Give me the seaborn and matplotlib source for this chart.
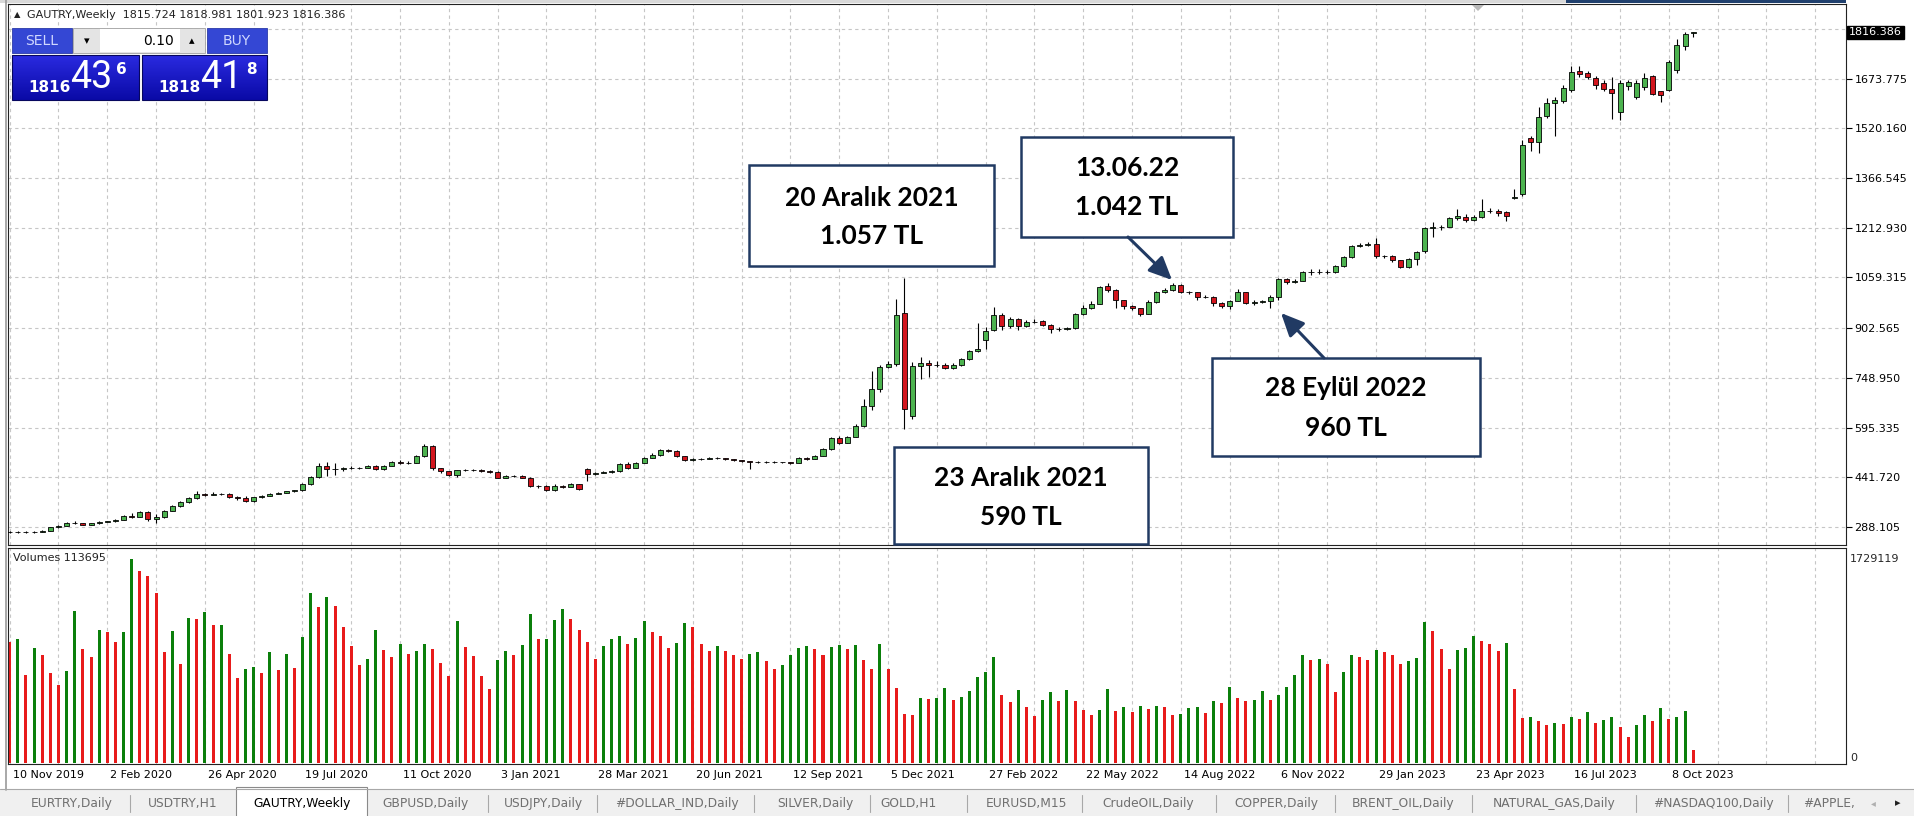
import numpy as np
import pandas as pd
import matplotlib.pyplot as plt
import matplotlib.patches as mpatches
from matplotlib.colors import LinearSegmentedColormap
import seaborn as sns

# --- Setup ---
sns.set_style('white')
plt.rcParams['font.family'] = ['DejaVu Sans']
W, H = 1915, 816

# --- Data: weekly GAUTRY candles (from 10 Nov 2019) ---
opens = [272, 274, 273, 273, 274, 277, 287, 292, 301, 301,
         295, 299, 305, 306, 310, 323, 320, 335, 313, 318,
         339, 353, 365, 378, 391, 388, 390, 389, 381, 379,
         368, 380, 384, 390, 393, 398, 401, 421, 442, 477,
         466, 466, 471, 470, 471, 477, 467, 478, 489, 486,
         487, 508, 537, 469, 460, 448, 463, 464, 464, 461,
         459, 441, 446, 446, 441, 414, 415, 401, 415, 413,
         421, 468, 451, 454, 458, 460, 484, 471, 487, 502,
         511, 525, 524, 506, 494, 499, 499, 502, 500, 497,
         496, 491, 489, 489, 488, 488, 488, 487, 501, 499,
         508, 528, 563, 549, 567, 601, 661, 715, 784, 793,
         950, 632, 787, 796, 788, 790, 780, 789, 806, 831,
         866, 897, 942, 910, 930, 908, 923, 925, 913, 901,
         901, 902, 945, 965, 978, 1032, 1021, 990, 972, 965,
         947, 983, 1014, 1019, 1037, 1014, 1013, 998, 1000, 980,
         970, 987, 1013, 980, 984, 985, 999, 1055, 1046, 1049,
         1075, 1075, 1075, 1076, 1094, 1123, 1156, 1158, 1163, 1124,
         1126, 1112, 1090, 1116, 1141, 1213, 1215, 1216, 1242, 1247,
         1237, 1246, 1265, 1265, 1262, 1305, 1316, 1490, 1479, 1559,
         1597, 1603, 1638, 1697, 1690, 1677, 1659, 1643, 1569, 1651,
         1616, 1648, 1681, 1636, 1640, 1699, 1773, 1815.724]
highs = [276, 276, 275, 277, 279, 289, 295, 303, 308, 302,
         301, 307, 308, 312, 325, 330, 338, 337, 328, 341,
         356, 368, 381, 398, 394, 396, 392, 393, 383, 383,
         382, 386, 392, 395, 400, 403, 424, 445, 487, 488,
         485, 474, 476, 474, 481, 480, 481, 492, 494, 492,
         510, 545, 540, 471, 462, 465, 468, 467, 466, 463,
         462, 449, 448, 450, 443, 419, 417, 420, 418, 423,
         422, 471, 457, 460, 463, 486, 488, 490, 504, 516,
         528, 530, 527, 507, 502, 502, 504, 504, 500, 498,
         495, 491, 492, 491, 491, 490, 490, 503, 503, 511,
         531, 566, 568, 570, 606, 685, 771, 788, 801, 993,
         1057, 797, 812, 805, 800, 795, 795, 810, 836, 919,
         905, 968, 948, 937, 933, 928, 930, 928, 914, 905,
         906, 950, 974, 986, 1033, 1042, 1024, 990, 975, 966,
         990, 1018, 1026, 1041, 1039, 1018, 1014, 1006, 1002, 982,
         990, 1024, 1015, 990, 990, 1004, 1058, 1058, 1053, 1078,
         1086, 1085, 1083, 1098, 1127, 1160, 1165, 1168, 1180, 1130,
         1128, 1112, 1118, 1142, 1216, 1231, 1222, 1246, 1272, 1255,
         1252, 1301, 1273, 1270, 1266, 1334, 1485, 1497, 1587, 1615,
         1616, 1655, 1712, 1712, 1698, 1682, 1670, 1678, 1668, 1670,
         1668, 1692, 1686, 1636, 1730, 1795, 1819, 1818.981]
lows = [270, 271, 271, 271, 273, 276, 286, 291, 296, 293,
        294, 298, 303, 305, 309, 317, 319, 306, 300, 316,
        337, 351, 363, 376, 384, 386, 386, 379, 372, 366,
        366, 378, 383, 389, 392, 396, 399, 419, 440, 445,
        450, 462, 466, 468, 470, 464, 465, 476, 483, 483,
        485, 505, 465, 455, 446, 442, 460, 461, 458, 455,
        438, 441, 443, 439, 411, 410, 398, 399, 409, 412,
        401, 429, 448, 454, 456, 458, 466, 470, 486, 500,
        509, 520, 504, 492, 493, 496, 498, 497, 494, 493,
        488, 468, 486, 485, 485, 485, 484, 486, 495, 497,
        506, 525, 545, 547, 565, 598, 650, 705, 780, 785,
        590, 623, 745, 752, 782, 776, 777, 785, 803, 828,
        838, 893, 896, 904, 896, 905, 918, 910, 888, 895,
        897, 900, 943, 962, 976, 1015, 966, 962, 958, 940,
        945, 980, 1012, 1016, 1010, 1008, 990, 995, 970, 966,
        962, 985, 978, 973, 980, 966, 990, 1040, 1043, 1047,
        1068, 1070, 1070, 1074, 1092, 1120, 1152, 1157, 1120, 1120,
        1108, 1087, 1088, 1097, 1136, 1185, 1205, 1214, 1238, 1230,
        1233, 1243, 1258, 1250, 1235, 1303, 1312, 1451, 1444, 1553,
        1497, 1598, 1632, 1679, 1672, 1642, 1634, 1549, 1546, 1640,
        1610, 1640, 1622, 1600, 1636, 1690, 1763, 1801.923]
closes = [274, 273, 273, 274, 277, 287, 292, 301, 301, 295,
          299, 305, 306, 310, 323, 320, 335, 313, 318, 339,
          353, 365, 378, 391, 388, 390, 389, 381, 379, 368,
          380, 384, 390, 393, 398, 401, 421, 442, 477, 466,
          466, 471, 470, 471, 477, 467, 478, 489, 486, 487,
          508, 537, 469, 460, 448, 463, 464, 464, 461, 459,
          441, 446, 446, 441, 414, 415, 401, 415, 413, 421,
          404, 451, 454, 458, 460, 484, 471, 487, 502, 511,
          525, 524, 506, 494, 499, 499, 502, 500, 497, 496,
          491, 489, 489, 488, 488, 488, 487, 501, 499, 508,
          528, 563, 549, 567, 601, 661, 715, 784, 793, 943,
          652, 787, 796, 788, 790, 780, 789, 806, 831, 837,
          895, 942, 910, 930, 908, 923, 923, 913, 901, 901,
          902, 945, 965, 978, 1030, 1021, 990, 972, 965, 947,
          983, 1014, 1019, 1037, 1014, 1013, 998, 1000, 980, 970,
          987, 1013, 980, 984, 985, 999, 1055, 1046, 1049, 1075,
          1075, 1075, 1076, 1094, 1123, 1156, 1158, 1163, 1124, 1126,
          1112, 1090, 1116, 1137, 1213, 1215, 1216, 1242, 1249, 1237,
          1246, 1265, 1265, 1259, 1249, 1307, 1470, 1479, 1556, 1598,
          1608, 1644, 1695, 1689, 1679, 1654, 1641, 1628, 1661, 1663,
          1661, 1675, 1626, 1624, 1725, 1779, 1813, 1816.386]
# weekly tick volume, thousands
volume_k = [1028, 1051, 743, 978, 915, 760, 658, 777, 1288, 969,
            901, 1124, 1108, 1028, 1113, 1729.119, 1630, 1588, 1444, 941,
            1116, 839, 1226, 1218, 1277, 1167, 1172, 924, 718, 797,
            811, 760, 941, 788, 924, 805, 1071, 1441, 1322, 1407,
            1331, 1150, 995, 831, 881, 1130, 958, 901, 1009, 924,
            949, 1009, 969, 848, 737, 1201, 986, 907, 737, 624,
            873, 949, 915, 1003, 1260, 1048, 1054, 1209, 1302, 1218,
            1124, 1026, 882, 995, 1051, 1079, 1009, 1062, 1206, 1113,
            1079, 975, 1017, 1184, 1150, 1009, 949, 992, 949, 915,
            882, 924, 938, 862, 794, 828, 915, 972, 992, 966,
            915, 983, 1000, 966, 1000, 873, 794, 1009, 794, 639,
            412, 404, 551, 542, 551, 639, 534, 559, 613, 726,
            768, 898, 576, 520, 622, 475, 398, 534, 605, 528,
            622, 526, 449, 407, 449, 624, 441, 475, 432, 483,
            458, 483, 475, 407, 415, 466, 472, 424, 526, 509,
            647, 551, 528, 534, 613, 534, 576, 647, 746, 915,
            873, 882, 839, 605, 768, 915, 898, 873, 958, 941,
            915, 839, 862, 887, 1198, 1122, 966, 794, 958, 975,
            1079, 1034, 1009, 949, 1017, 624, 381, 390, 356, 322,
            339, 331, 390, 373, 432, 339, 364, 390, 305, 223,
            322, 407, 356, 466, 373, 390, 441, 113.695]

date_labels = ['10 Nov 2019', '2 Feb 2020', '26 Apr 2020', '19 Jul 2020', '11 Oct 2020',
               '3 Jan 2021', '28 Mar 2021', '20 Jun 2021', '12 Sep 2021', '5 Dec 2021',
               '27 Feb 2022', '22 May 2022', '14 Aug 2022', '6 Nov 2022', '29 Jan 2023',
               '23 Apr 2023', '16 Jul 2023', '8 Oct 2023']
price_ticks = [288.105, 441.720, 595.335, 748.950, 902.565, 1059.315,
               1212.930, 1366.545, 1520.160, 1673.775]
hidden_grid = 1827.390  # grid line whose label sits under the price marker
vol_max = 1729119

tabs = ['EURTRY,Daily', 'USDTRY,H1', 'GAUTRY,Weekly', 'GBPUSD,Daily', 'USDJPY,Daily',
        '#DOLLAR_IND,Daily', 'SILVER,Daily', 'GOLD,H1', 'EURUSD,M15', 'CrudeOIL,Daily',
        'COPPER,Daily', 'BRENT_OIL,Daily', 'NATURAL_GAS,Daily', '#NASDAQ100,Daily', '#APPLE,']
tab_x = [72, 183, 302, 426, 543, 677, 815, 909, 1027, 1148, 1276, 1403, 1554, 1713, 1829]
tab_sep = [130, 488, 597, 754, 870, 967, 1082, 1216, 1335, 1472, 1636, 1788]

# --- Derived ---
n = len(closes)
idx = np.arange(n)
o = np.array(opens, float)
c = np.array(closes, float)
hi = np.array(highs, float)
lo = np.array(lows, float)
vols = np.array(volume_k) * 1000
vol_dir = ['down'] + ['up' if vols[i] > vols[i - 1] else 'down' for i in range(1, n)]

BULL, BEAR = '#4cb34f', '#d2151d'
VOL_UP, VOL_DN = '#0b7f0b', '#e81b1b'
GRID = '#c6c6c6'
NAVY = '#213a63'

fig = plt.figure(figsize=(W / 100, H / 100), dpi=100)
fig.patch.set_facecolor('white')


def px_axes(x0, y0, x1, y1, **kw):
    return fig.add_axes([x0 / W, 1 - y1 / H, (x1 - x0) / W, (y1 - y0) / H], **kw)


def fig_rect(x0, y0, x1, y1, **kw):
    r = mpatches.Rectangle((x0 / W, 1 - y1 / H), (x1 - x0) / W, (y1 - y0) / H,
                           transform=fig.transFigure, **kw)
    fig.add_artist(r)
    return r


def fig_text(x, y, s, **kw):
    return fig.text(x / W, 1 - y / H, s, **kw)


def fig_line(x0, y0, x1, y1, **kw):
    fig.add_artist(plt.Line2D([x0 / W, x1 / W], [1 - y0 / H, 1 - y1 / H],
                              transform=fig.transFigure, **kw))


# bar spacing 8.133 px, first bar at x=9.7 px; panel spans 8..1846
XL = (8 - 9.7) / 8.133
XR = (1846 - 9.7) / 8.133
grid_x = np.arange(0, XR, 6)

# --- Price panel ---
ax = px_axes(8, 4, 1846, 545)
ax.set_xlim(XL, XR)
ax.set_ylim(232.5, 1904.2)
for gx in grid_x:
    ax.axvline(gx, color=GRID, lw=0.8, ls=(0, (3, 3)), zorder=1)
for gy in price_ticks + [hidden_grid]:
    ax.axhline(gy, color=GRID, lw=0.8, ls=(0, (3, 3)), zorder=1)

ax.vlines(idx, lo, hi, color='black', lw=0.8, zorder=3)
body_lo = np.minimum(o, c)
body_h = np.abs(c - o)
ax.bar(idx, body_h, bottom=body_lo, width=0.62,
       color=np.where(c >= o, BULL, BEAR), edgecolor='black', linewidth=0.6, zorder=4)

ax.set_xticks([])
ax.yaxis.tick_right()
ax.set_yticks(price_ticks + [hidden_grid])
ax.set_yticklabels([f'{v:.3f}' for v in price_ticks] + [''])
ax.tick_params(axis='y', length=4, width=0.8, pad=2, labelsize=8, colors='black')
for s in ax.spines.values():
    s.set_color('#222222')
    s.set_linewidth(0.8)
ax.text(1.0 + 3 / 1838, closes[-1], f'{closes[-1]:.3f}', transform=ax.get_yaxis_transform(),
        ha='left', va='center', fontsize=8, color='white',
        bbox=dict(boxstyle='square,pad=0.15', fc='black', ec='black'), zorder=10, clip_on=False)

fig_text(14, 15, '\u25b2', fontsize=6, ha='left', va='center', color='#222222')
fig_text(27, 15, f'GAUTRY,Weekly  {opens[-1]:.3f} {highs[-1]:.3f} {lows[-1]:.3f} {closes[-1]:.3f}',
         fontsize=8, ha='left', va='center', color='#222222')

# --- Volume panel ---
axv = px_axes(8, 548, 1846, 764)
vol_df = pd.DataFrame({'week': idx, 'volume': vols, 'dir': vol_dir})
sns.barplot(data=vol_df, x='week', y='volume', hue='dir', hue_order=['up', 'down'],
            palette={'up': VOL_UP, 'down': VOL_DN}, dodge=False, native_scale=True,
            width=0.37, saturation=1, errorbar=None, legend=False, linewidth=0, ax=axv)
axv.set_xlim(XL, XR)
axv.set_ylim(-vol_max / 204, vol_max * 215 / 204)
for gx in grid_x:
    axv.axvline(gx, color=GRID, lw=0.8, ls=(0, (3, 3)), zorder=0)
axv.set_xlabel('')
axv.set_ylabel('')
axv.set_yticks([])
tick_pos = np.arange(len(date_labels)) * 12
axv.set_xticks(tick_pos)
axv.set_xticklabels([])
axv.tick_params(axis='x', length=4, width=0.8, direction='out', colors='black')
for s in axv.spines.values():
    s.set_color('#222222')
    s.set_linewidth(0.8)
for p, lab in zip(tick_pos, date_labels):
    axv.text(p + 0.35, -11 / 216, lab, transform=axv.get_xaxis_transform(),
             ha='left', va='center', fontsize=8, color='black', clip_on=False)
axv.text(5 / 1838, 1 - 10 / 216, f'Volumes {int(vols[-1])}', transform=axv.transAxes,
         ha='left', va='center', fontsize=8, color='#222222')
axv.text(1.0 + 4 / 1838, vol_max, f'{vol_max}', transform=axv.get_yaxis_transform(),
         ha='left', va='center', fontsize=8, clip_on=False)
axv.text(1.0 + 4 / 1838, 0, '0', transform=axv.get_yaxis_transform(),
         ha='left', va='bottom', fontsize=8, clip_on=False)

# --- Window frame details ---
fig_line(6, 0, 6, 790, color='#9a9a9a', lw=1.2)
fig_rect(0, 0, 1566, 3, fc='#d9d9d9', ec='none')
fig_rect(1566, 0, 1846, 3, fc='#20406e', ec='none')
fig.add_artist(mpatches.Polygon([(1472 / W, 1 - 5 / H), (1484 / W, 1 - 5 / H), (1478 / W, 1 - 11 / H)],
                                closed=True, transform=fig.transFigure, fc='#b8b8b8', ec='none'))

# tab bar
fig_rect(0, 789, W, H, fc='#f0f0f0', ec='none')
fig_line(0, 789, W, 789, color='#a8a8a8', lw=0.8)
fig_rect(236, 787, 367, 817, fc='white', ec='#8a8a8a', lw=0.8)
for sx in tab_sep:
    fig_line(sx, 795, sx, 812, color='#a8a8a8', lw=0.8)
for t, tx in zip(tabs, tab_x):
    fig_text(tx, 803, t, fontsize=8.8, ha='center', va='center',
             color='black' if t == 'GAUTRY,Weekly' else '#707070')
fig_text(1873, 803, '\u25c2', fontsize=7, ha='center', va='center', color='#b0b0b0')
fig_text(1898, 803, '\u25b8', fontsize=8, ha='center', va='center', color='#202020')

# --- One-click trading widget ---
fig_rect(12, 28, 72, 53, fc='#3447d4', ec='#2a3aa8', lw=0.6)
fig_text(42, 41, 'SELL', fontsize=10, ha='center', va='center', color='#d0d8ff')
fig_rect(207, 28, 267, 53, fc='#3447d4', ec='#2a3aa8', lw=0.6)
fig_text(237, 41, 'BUY', fontsize=10, ha='center', va='center', color='#d0d8ff')
fig_rect(73, 28, 205, 53, fc='#e4e4e4', ec='#a0a0a0', lw=0.6)
fig_rect(100, 29, 180, 52, fc='white', ec='none')
fig_text(87, 41, '\u25be', fontsize=8, ha='center', va='center', color='black')
fig_text(192, 41, '\u25b4', fontsize=8, ha='center', va='center', color='black')
fig_text(174, 41, '0.10', fontsize=10, ha='right', va='center', color='black')

grad = LinearSegmentedColormap.from_list('mt', ['#2a2ae0', '#0a0aa6'])
for x0, x1, big_lead, big, small in [(12, 139, '1816', '43', '6'), (142, 267, '1818', '41', '8')]:
    gax = px_axes(x0, 55, x1, 100)
    gax.imshow(np.linspace(0, 1, 50).reshape(-1, 1), aspect='auto', cmap=grad)
    gax.set_axis_off()
    fig_rect(x0, 55, x1, 100, fc='none', ec='#07075e', lw=0.8)
    fig_text(x0 + 16, 87, big_lead, fontsize=11, fontweight='bold', ha='left', va='center', color='white')
    fig_text(x0 + 58, 78, big, fontsize=27, family='Roboto',
             ha='left', va='center', color='white')
    fig_text(x0 + 104, 69, small, fontsize=11, fontweight='bold', ha='left', va='center', color='white')

# --- Annotation boxes ---
boxes = [((749, 165, 994, 266), ('20 Aral\u0131k 2021', '1.057 TL'), (198, 236)),
         ((1021, 137, 1233, 237), ('13.06.22', '1.042 TL'), (168, 207)),
         ((1212, 358, 1480, 456), ('28 Eyl\u00fcl 2022', '960 TL'), (388, 428)),
         ((894, 447, 1148, 544), ('23 Aral\u0131k 2021', '590 TL'), (478, 517))]
for (x0, y0, x1, y1), lines, ys in boxes:
    fig_rect(x0, y0, x1, y1, fc='white', ec=NAVY, lw=1.8, zorder=5)
    for s, yy in zip(lines, ys):
        fig_text((x0 + x1) / 2, yy, s, family='Lato', fontweight='bold', fontsize=19,
                 ha='center', va='center', color='black', zorder=6)

for (xa, ya), (xb, yb) in [((1128, 237), (1172, 280)), ((1324, 358), (1281, 313))]:
    arr = mpatches.FancyArrowPatch((xa / W, 1 - ya / H), (xb / W, 1 - yb / H),
                                   transform=fig.transFigure,
                                   arrowstyle='-|>,head_length=0.7,head_width=0.32',
                                   mutation_scale=20, color=NAVY, lw=2.2, zorder=6,
                                   shrinkA=0, shrinkB=0)
    fig.add_artist(arr)

fig.savefig('out.png', dpi=100, facecolor='white')
